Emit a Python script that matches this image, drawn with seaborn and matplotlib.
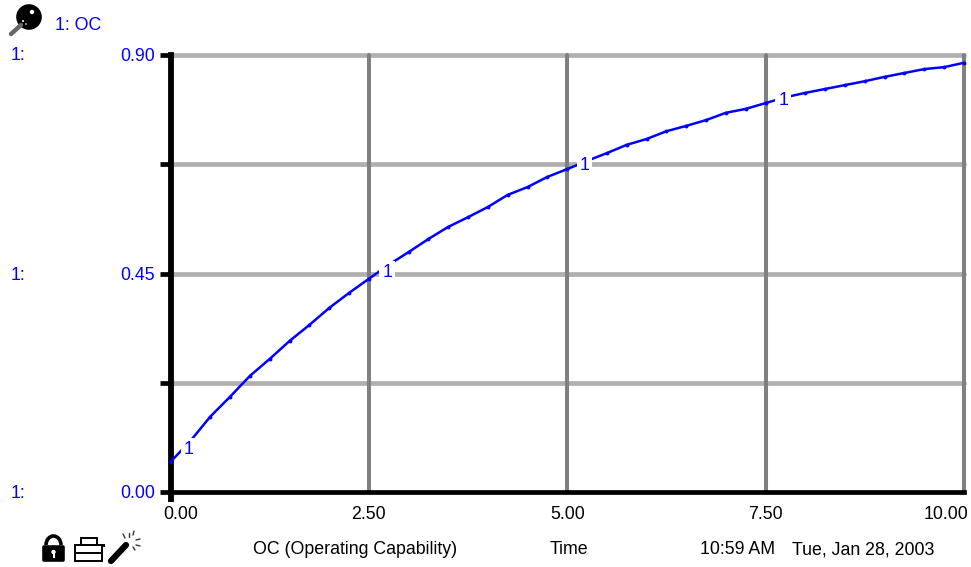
import matplotlib
matplotlib.use("Agg")
import matplotlib.pyplot as plt
import matplotlib.patches as mp
from matplotlib.lines import Line2D
from matplotlib.transforms import Affine2D, ScaledTranslation
import seaborn as sns
import pandas as pd

time = [0.00, 0.25, 0.50, 0.75, 1.00, 1.25, 1.50, 1.75, 2.00, 2.25, 2.50, 2.75, 3.00, 3.25,
        3.50, 3.75, 4.00, 4.25, 4.50, 4.75, 5.00, 5.25, 5.50, 5.75, 6.00, 6.25, 6.50, 6.75,
        7.00, 7.25, 7.50, 7.75, 8.00, 8.25, 8.50, 8.75, 9.00, 9.25, 9.50, 9.75, 10.00]
oc = [0.062, 0.105, 0.155, 0.196, 0.239, 0.274, 0.311, 0.344, 0.379, 0.410, 0.439, 0.468, 0.494, 0.521,
      0.546, 0.566, 0.587, 0.612, 0.628, 0.649, 0.665, 0.682, 0.698, 0.715, 0.727, 0.743, 0.754, 0.766,
      0.781, 0.789, 0.801, 0.813, 0.822, 0.830, 0.838, 0.846, 0.855, 0.863, 0.871, 0.875, 0.884]
x_ticks = [0, 2.5, 5, 7.5, 10]
x_labels = ["0.00", "2.50", "5.00", "7.50", "10.00"]
y_ticks = [0, 0.225, 0.45, 0.675, 0.9]
y_labels = ["0.00", "", "0.45", "", "0.90"]
marker_x = [0.23, 2.73, 5.22, 7.72]
marker_y = [0.088, 0.452, 0.672, 0.806]

W, H = 971, 567
sns.set_style("white")
plt.rcParams["font.family"] = ["Liberation Sans", "DejaVu Sans"]
BLUE = "#0000ff"
FS = 12.8

fig = plt.figure(figsize=(W / 100, H / 100), dpi=100)
ax = fig.add_axes([170.5 / W, 1 - 492 / H, (964 - 170.5) / W, (492 - 55) / H])
df = pd.DataFrame({"Time": time, "OC": oc})

# grid first, thick like the original
for v in y_ticks[1:]:
    ax.axhline(v, color="#b0b0b0", lw=3.4, zorder=1, clip_on=False)
for v in x_ticks[1:]:
    ax.axvline(v, color="#808080", lw=2.9, zorder=1.5, clip_on=False)

sns.lineplot(data=df, x="Time", y="OC", color=BLUE, lw=1.8, marker="o", markersize=2.8,
             markeredgewidth=0, zorder=3, ax=ax, clip_on=False)

for a, b in zip(marker_x, marker_y):
    ax.text(a, b, "1", color=BLUE, fontsize=FS, ha="center", va="center", zorder=4,
            bbox=dict(facecolor="white", edgecolor="none", pad=2))

ax.set_xlim(0, 10)
ax.set_ylim(0, 0.9)
ax.set_xlabel("")
ax.set_ylabel("")
for s in ["top", "right"]:
    ax.spines[s].set_visible(False)
ax.spines["left"].set_color("black")
ax.spines["left"].set_linewidth(4.2)
ax.spines["left"].set_zorder(2.5)
ax.spines["bottom"].set_color("black")
ax.spines["bottom"].set_linewidth(3.4)
ax.spines["bottom"].set_zorder(2.5)

ax.set_xticks(x_ticks, x_labels)
ax.set_yticks(y_ticks, y_labels)
ax.tick_params(axis="x", length=0, pad=10, labelsize=FS, labelcolor="black")
ax.tick_params(axis="y", length=8, width=3.4, color="black", pad=3, labelsize=FS, labelcolor=BLUE, left=True)
ax.xaxis.get_major_ticks()[0].tick1line.set_visible(True)
ax.xaxis.get_major_ticks()[0].tick1line.set_markersize(7)
ax.xaxis.get_major_ticks()[0].tick1line.set_markeredgewidth(4.2)
ax.xaxis.get_major_ticks()[0].tick1line.set_markeredgecolor("black")

labs = ax.get_xticklabels()
labs[0].set_transform(labs[0].get_transform() + ScaledTranslation(10 / 100, 0, fig.dpi_scale_trans))
labs[4].set_transform(labs[4].get_transform() + ScaledTranslation(-18 / 100, 0, fig.dpi_scale_trans))

# texts around the plot, placed in pixels
px = Affine2D().scale(1, -1).translate(0, H)


def label(x, y, s, color="black", ha="left"):
    fig.text(x, y, s, color=color, fontsize=FS, ha=ha, va="center", transform=px)


label(55, 26, "1: OC", BLUE)
for yy in [56, 275, 493]:
    label(11, yy, "1:", BLUE)
label(253, 550, "OC (Operating Capability)")
label(550, 550, "Time")
label(700, 550, "10:59 AM")
label(792, 550, "Tue, Jan 28, 2003")


def add(p):
    p.set_transform(px)
    fig.add_artist(p)


# magnifier icon
add(Line2D([11, 21], [34, 25], color="#666666", lw=3.2, transform=px))
add(mp.Circle((29, 17), 12.8, fc="black", ec="none"))
add(mp.Circle((32, 12), 2.2, fc="white", ec="none"))
add(mp.Circle((23, 21), 1, fc="white", ec="none"))
add(mp.Circle((26, 24), 0.8, fc="white", ec="none"))

# lock icon
add(mp.Arc((53.5, 545), 15, 18, theta1=180, theta2=360, ec="black", lw=2.6))
add(mp.FancyBboxPatch((44, 547), 19, 13, boxstyle="round,pad=1.8", fc="black", ec="none"))
add(mp.Circle((53.5, 552), 2.2, fc="white", ec="none"))
add(mp.Rectangle((52.5, 553), 2, 5, fc="white", ec="none"))

# printer icon
add(mp.Rectangle((75, 545), 27, 16, fc="white", ec="black", lw=1.4))
add(mp.Rectangle((81, 538), 16, 7, fc="white", ec="black", lw=1.4))
add(Line2D([75, 102], [553, 553], color="black", lw=1.4, transform=px))
add(mp.Rectangle((102, 544), 3, 3, fc="black", ec="none"))

# wand icon
add(Line2D([111, 126], [561, 545], color="black", lw=4.5, transform=px))
for x0, y0, x1, y1 in [(129, 533, 129, 537), (134, 531, 133, 535), (140, 539, 136, 540),
                       (140, 546, 136, 545), (135, 550, 133, 547), (123, 534, 125, 538)]:
    add(Line2D([x0, x1], [y0, y1], color="#333333", lw=1, transform=px))

fig.savefig("out.png", dpi=100)
